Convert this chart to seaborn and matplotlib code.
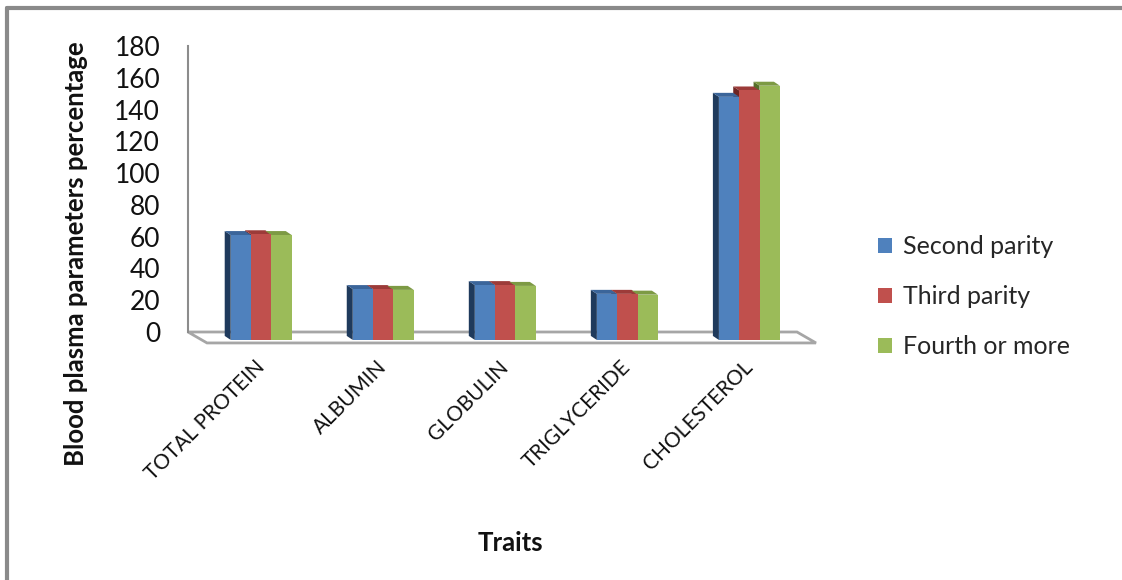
import numpy as np
import pandas as pd
import seaborn as sns
import matplotlib
matplotlib.use("Agg")
import matplotlib.pyplot as plt
from matplotlib.patches import Polygon
from matplotlib.lines import Line2D

# ---- data ---------------------------------------------------------------
traits = ["TOTAL PROTEIN", "ALBUMIN", "GLOBULIN", "TRIGLYCERIDE", "CHOLESTEROL"]
second_parity = [61, 27, 29.5, 24, 148]
third_parity = [61.5, 27, 29.5, 24, 152]
fourth_or_more = [61, 26.5, 29, 23.5, 155]
series_names = ["Second parity", "Third parity", "Fourth or more"]
y_ticks = [0, 20, 40, 60, 80, 100, 120, 140, 160, 180]

front_colors = ["#4F81BD", "#C0504D", "#9BBB59"]
top_colors = ["#3B659A", "#9C3B39", "#7D9A44"]
side_colors = ["#1F3A5C", "#6E2523", "#566E2A"]

df = pd.DataFrame({
    "trait": traits * 3,
    "parity": np.repeat(series_names, len(traits)),
    "value": second_parity + third_parity + fourth_or_more,
})

# ---- figure ---------------------------------------------------------------
sns.set_style("white")
plt.rcParams["font.family"] = ["Lato", "DejaVu Sans"]

W, H = 1122, 580
fig = plt.figure(figsize=(W / 100, H / 100), dpi=100)

x_lo, x_hi = -0.6, 4.39
y_lo, y_hi = -8, 180
ax_left, ax_right = 188 / W, 797 / W
ax_bottom = 1 - 344.7 / H
ax_top = 1 - 46 / H
ax = fig.add_axes([ax_left, ax_bottom, ax_right - ax_left, ax_top - ax_bottom])

sns.barplot(data=df, x="trait", y="value", hue="parity", order=traits,
            hue_order=series_names, palette=front_colors, saturation=1,
            width=0.5, gap=0, errorbar=None, linewidth=0, ax=ax)

ax.set_xlim(x_lo, x_hi)
ax.set_ylim(y_lo, y_hi)

# pseudo-3D depth of the columns and floor (data units)
px_x = (x_hi - x_lo) / (797 - 188)
px_y = (y_hi - y_lo) / 298.7
bar_dx, bar_dy = 6 * px_x, 4 * px_y
floor_front_y = -6.9
floor_dx = 19 * px_x
bar_floor = -5.0

for j, cont in enumerate(ax.containers):
    for rect in cont:
        top = rect.get_y() + rect.get_height()
        rect.set_y(bar_floor)
        rect.set_height(top - bar_floor)
        rect.set_zorder(4)
        x0 = rect.get_x()
        x1 = x0 + rect.get_width()
        side = Polygon([(x0, bar_floor), (x0, top), (x0 - bar_dx, top + bar_dy),
                        (x0 - bar_dx, bar_floor + bar_dy)], closed=True,
                       facecolor=side_colors[j], edgecolor="none", zorder=2,
                       clip_on=False)
        lid = Polygon([(x0, top), (x1, top), (x1 - bar_dx, top + bar_dy),
                       (x0 - bar_dx, top + bar_dy)], closed=True,
                      facecolor=top_colors[j], edgecolor="none", zorder=3,
                      clip_on=False)
        ax.add_patch(side)
        ax.add_patch(lid)

# floor outline
floor = Polygon([(x_lo, 0), (x_hi, 0), (x_hi + floor_dx, floor_front_y),
                 (x_lo + floor_dx, floor_front_y)], closed=True,
                facecolor="white", edgecolor="#A6A6A6", linewidth=2,
                zorder=1, clip_on=False)
ax.add_patch(floor)

# axes styling
for s in ["top", "right", "bottom"]:
    ax.spines[s].set_visible(False)
ax.spines["left"].set_bounds(0, 180)
ax.spines["left"].set_color("#8C8C8C")
ax.spines["left"].set_linewidth(1.5)
ax.set_yticks(y_ticks)
ax.tick_params(axis="y", direction="out", length=8, width=1.5,
               color="#8C8C8C", labelsize=19, pad=12, labelcolor="#111111")
ax.tick_params(axis="x", length=0, labelsize=15, pad=14, labelcolor="#111111")
for lab in ax.get_xticklabels():
    lab.set_rotation(45)
    lab.set_ha("right")
    lab.set_va("center")
    lab.set_rotation_mode("anchor")

ax.set_xlabel("Traits", fontsize=18.5, fontweight="bold", color="#111111")
ax.xaxis.set_label_coords(510 / W, 1 - 531 / H, transform=fig.transFigure)
ax.set_ylabel("Blood plasma parameters percentage", fontsize=18.5,
              fontweight="bold", color="#111111")
ax.yaxis.set_label_coords(88 / W, 1 - 254 / H, transform=fig.transFigure)

handles, labels = ax.get_legend_handles_labels()
ax.legend(handles, labels, loc="upper left",
          bbox_to_anchor=(878 / W, 1 - 235 / H), bbox_transform=fig.transFigure,
          frameon=False, fontsize=18, handlelength=0.55, handleheight=0.55,
          handletextpad=0.45, labelspacing=1.09, borderpad=0, borderaxespad=0)

# chart frame (top and left edges)
fig.add_artist(Line2D([7 / W, 7 / W], [0, 1 - 8 / H], transform=fig.transFigure,
                      color="#8A8A8A", linewidth=3))
fig.add_artist(Line2D([7 / W, 1], [1 - 8 / H, 1 - 8 / H], transform=fig.transFigure,
                      color="#8A8A8A", linewidth=3))

fig.savefig("out.png", dpi=100, facecolor="white")
